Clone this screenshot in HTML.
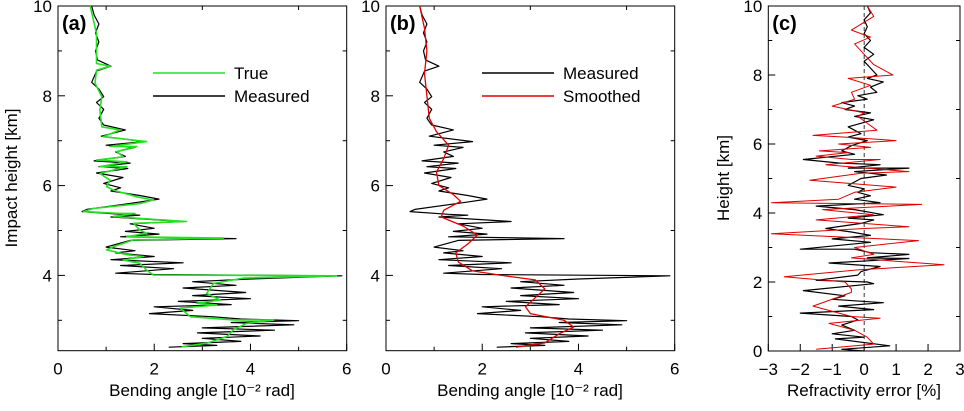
<!DOCTYPE html>
<html><head><meta charset="utf-8"><style>
body{margin:0;background:#fff}
svg text{font-family:"Liberation Sans",Arial,sans-serif;fill:#000}
</style></head><body>
<svg id="fig" width="964" height="406" viewBox="0 0 964 406" xmlns="http://www.w3.org/2000/svg"></svg>
<script>
// Panel (a)/(b) data: [value, height]
const trueProfile=[[0.67,10],[0.8,9.39],[0.8,8.72],[1.08,8.66],[0.8,8.57],[0.77,8.28],[0.91,7.98],[0.87,7.68],[0.91,7.31],[1.29,7.24],[0.94,7.09],[1.84,6.98],[1.08,6.87],[1.64,6.87],[1.22,6.76],[1.36,6.64],[0.8,6.57],[1.43,6.53],[0.87,6.42],[1.43,6.42],[0.87,6.27],[1.08,6.12],[1.01,5.98],[1.15,5.9],[1.64,5.75],[1.98,5.68],[1.7,5.6],[0.73,5.49],[0.53,5.42],[1.29,5.38],[1.6,5.38],[1.15,5.31],[2.67,5.2],[1.57,5.16],[1.7,5.01],[1.84,4.94],[1.43,4.86],[3.44,4.83],[1.57,4.79],[1.15,4.64],[1.01,4.57],[1.43,4.46],[1.77,4.42],[1.36,4.34],[1.7,4.27],[1.84,4.12],[1.98,4.01],[5.79,3.99],[3.85,3.94],[3.23,3.82],[3.09,3.6],[3.37,3.45],[2.88,3.38],[3.3,3.34],[2.54,3.27],[2.75,3.08],[3.65,3.01],[4.48,3.01],[3.92,2.93],[3.65,2.79],[3.51,2.64],[3.09,2.49],[2.57,2.41]];
const measuredProfile=[[0.7,10],[0.75,9.8],[0.85,9.6],[0.78,9.4],[0.85,9.2],[0.78,9.0],[0.82,8.8],[1.1,8.66],[0.8,8.55],[0.7,8.3],[0.85,8.15],[0.95,7.98],[0.8,7.85],[0.95,7.7],[0.85,7.5],[0.95,7.35],[1.4,7.24],[0.9,7.1],[1.8,6.98],[1.0,6.9],[1.6,6.85],[1.2,6.75],[1.4,6.65],[0.75,6.55],[1.5,6.5],[0.85,6.42],[1.45,6.38],[0.8,6.28],[1.35,6.18],[0.95,6.05],[1.3,5.95],[1.1,5.88],[1.7,5.78],[2.1,5.7],[1.6,5.62],[0.6,5.47],[0.5,5.42],[1.3,5.36],[1.7,5.34],[1.1,5.3],[2.6,5.2],[1.5,5.15],[2.0,5.05],[1.4,4.98],[2.1,4.92],[1.3,4.86],[3.7,4.82],[1.5,4.78],[1.0,4.63],[1.6,4.55],[1.2,4.5],[2.0,4.42],[1.1,4.35],[2.6,4.28],[1.3,4.22],[2.4,4.15],[1.2,4.05],[2.0,4.02],[5.9,3.99],[4.0,3.92],[2.8,3.86],[3.7,3.78],[2.6,3.72],[3.9,3.62],[2.8,3.55],[4.0,3.48],[2.5,3.42],[3.6,3.35],[2.0,3.3],[2.8,3.22],[1.9,3.15],[3.2,3.08],[3.8,3.03],[5.0,2.99],[3.6,2.95],[4.9,2.9],[3.0,2.83],[4.5,2.78],[2.9,2.72],[4.2,2.65],[3.0,2.6],[3.8,2.53],[2.6,2.48],[3.3,2.44],[2.3,2.4]];
const smoothedProfile=[[0.7,10],[0.8,9.5],[0.85,9],[0.8,8.5],[0.85,8],[0.9,7.5],[1.05,7.2],[1.3,6.9],[1.2,6.6],[1.05,6.3],[1.1,6.0],[1.4,5.8],[1.55,5.65],[1.2,5.45],[1.15,5.3],[1.6,5.1],[1.9,4.9],[1.7,4.7],[1.45,4.5],[1.5,4.3],[1.8,4.1],[2.4,4.0],[3.1,3.9],[3.3,3.7],[3.1,3.5],[2.9,3.3],[3.0,3.15],[3.7,3.0],[3.9,2.85],[3.6,2.7],[3.3,2.5],[2.7,2.4]];
// Panel (c): [percent, height]
const errMeasured=[[0.1,10],[0.2,9.8],[0,9.6],[0.1,9.4],[0,9.2],[0.2,9.0],[0,8.8],[0.3,8.6],[0,8.4],[0.2,8.2],[0.4,8.0],[0.1,7.9],[0.6,7.8],[0.2,7.65],[0.4,7.5],[-0.2,7.4],[0.1,7.3],[-0.7,7.2],[-0.3,7.1],[-0.6,7.0],[0.2,6.9],[-0.3,6.8],[0.3,6.7],[-0.5,6.5],[-0.1,6.3],[-0.5,6.2],[0.1,6.1],[-0.4,5.95],[-0.7,5.8],[-0.3,5.7],[-1.9,5.55],[-0.8,5.45],[0.5,5.4],[-0.5,5.3],[1.4,5.3],[-0.3,5.2],[0.7,5.1],[-0.1,5.0],[-0.5,4.8],[0,4.7],[-0.2,4.6],[0.2,4.5],[-0.3,4.4],[0.5,4.3],[-1.5,4.2],[-0.3,4.1],[0.6,3.95],[-0.5,3.85],[0.3,3.8],[-0.1,3.7],[-1.2,3.55],[-0.4,3.45],[0.2,3.35],[-1.0,3.25],[0.2,3.15],[-2.0,2.95],[-0.3,2.95],[0.2,2.85],[1.4,2.8],[0.1,2.7],[1.4,2.68],[-1.1,2.55],[0.5,2.45],[-0.1,2.3],[-0.2,2.2],[-1.5,2.05],[0.1,2.0],[0.3,1.95],[-1.9,1.75],[-0.6,1.6],[-1.0,1.5],[0.6,1.4],[-0.8,1.3],[0.3,1.2],[-2.0,1.1],[-0.4,1.0],[-0.2,0.9],[-0.7,0.75],[-0.3,0.6],[-1.0,0.5],[0.0,0.4],[-0.9,0.35],[0.8,0.15],[-0.7,0.05],[0,0]];
const errSmoothed=[[0.1,10],[0.3,9.7],[-0.4,9.3],[0.2,9.1],[-0.3,8.9],[0,8.6],[0.3,8.3],[0.9,8.0],[-0.5,7.9],[0.2,7.7],[-0.4,7.5],[-0.3,7.3],[-1.0,7.1],[0,6.9],[-0.2,6.8],[0.4,6.4],[-1.6,6.25],[-0.6,6.2],[1.0,6.1],[-0.8,6.0],[0.2,5.9],[-1.4,5.8],[-0.5,5.75],[-1.5,5.65],[-0.4,5.55],[0.5,5.55],[-1.2,5.4],[1.4,5.2],[-0.1,5.15],[-1.7,4.95],[1.0,4.75],[-0.3,4.6],[-0.8,4.4],[-2.9,4.3],[1.8,4.25],[-1.3,4.1],[0.3,3.95],[-1.5,3.8],[1.4,3.6],[0,3.55],[-2.9,3.4],[1.7,3.2],[-0.3,3.0],[0.3,2.8],[-0.4,2.7],[2.5,2.5],[-0.2,2.35],[-2.5,2.15],[-0.6,2.0],[-0.4,1.8],[-0.4,1.7],[-1.6,1.3],[-0.4,1.0],[0.5,0.95],[-1.1,0.8],[-0.3,0.6],[0.1,0.4],[0.3,0.2],[-1.5,0.05]];
const abXTicks=[0,2,4,6], abYTicks=[4,6,8,10], cXTicks=[-3,-2,-1,0,1,2,3], cYTicks=[0,2,4,6,8,10];

const NS="http://www.w3.org/2000/svg", svg=document.getElementById('fig');
function mk(tag,attrs,parent){const e=document.createElementNS(NS,tag);for(const k in attrs)e.setAttribute(k,attrs[k]);(parent||svg).appendChild(e);return e;}
function panel(id,x0,x1,y0,y1,xmin,xmax,ymin,ymax,xt,yt,xminor,yminor){
  const g=mk('g',{});
  
  
  const sx=v=>x0+(v-xmin)/(xmax-xmin)*(x1-x0), sy=v=>y1-(v-ymin)/(ymax-ymin)*(y1-y0);
  const fr=mk('rect',{x:x0,y:y0,width:x1-x0,height:y1-y0,fill:'none',stroke:'#000','stroke-width':1},g);
  
  
  xminor.forEach(v=>{mk('line',{x1:sx(v),x2:sx(v),y1:y1,y2:y1-4,stroke:'#000'},g);mk('line',{x1:sx(v),x2:sx(v),y1:y0,y2:y0+4,stroke:'#000'},g);});
  yminor.forEach(v=>{mk('line',{x1:x0,x2:x0+4,y1:sy(v),y2:sy(v),stroke:'#000'},g);mk('line',{x1:x1,x2:x1-4,y1:sy(v),y2:sy(v),stroke:'#000'},g);});
  xt.forEach(v=>{mk('line',{x1:sx(v),x2:sx(v),y1:y1,y2:y1-7,stroke:'#000'},g);const t=mk('text',{x:sx(v),y:y1+24,'text-anchor':'middle','font-size':17},g);t.textContent=(v<0?'\u2212'+(-v):v);
    
    });
  yt.forEach(v=>{mk('line',{x1:x0,x2:x0+7,y1:sy(v),y2:sy(v),stroke:'#000'},g);const t=mk('text',{x:x0-6,y:sy(v)+6,'text-anchor':'end','font-size':17},g);t.textContent=v;
    
    });
  const lab=mk('text',{x:x0+4,y:y0+24,'font-size':20,'font-weight':'bold'},g);lab.textContent='('+id+')';
  
  
  return {g,sx,sy};
}
function series(p,data,color,name,w){
  const e=mk('polyline',{points:data.map(d=>p.sx(d[0]).toFixed(1)+','+p.sy(d[1]).toFixed(1)).join(' '),fill:'none',stroke:color,'stroke-width':w,'stroke-linejoin':'round'},p.g);
  
  
}
function legend(p,x,y,color,label,name){
  const l=mk('line',{x1:x,x2:x+72,y1:y,y2:y,stroke:color,'stroke-width':1.5},p.g);
  
  
  const t=mk('text',{x:x+81,y:y+6,'font-size':17},p.g);t.textContent=label;
  
  
}
function text(x,y,s,name,rot){const t=mk('text',{x:x,y:y,'font-size':17,'text-anchor':'middle'});if(rot)t.setAttribute('transform','rotate(-90 '+x+' '+y+')');t.textContent=s;
  
  return t;}

// (a)
const A=panel('a',58,346.7,6,350.7,0,6,10-344.7/44.9,10,abXTicks,abYTicks,[1,3,5],[3,5,7,9]);
series(A,measuredProfile,'#000','measured-line-a',1.2);
series(A,trueProfile,'#22e022','true-line',1.6);
legend(A,153,73,'#22e022','True','legend-true');
legend(A,153,96,'#000','Measured','legend-measured-a');
// (b)
const B=panel('b',386,674.7,6,350.7,0,6,10-344.7/44.9,10,abXTicks,abYTicks,[1,3,5],[3,5,7,9]);
series(B,measuredProfile,'#000','measured-line-b',1.2);
series(B,smoothedProfile,'#e00000','smoothed-line',1.3);
legend(B,482,73,'#000','Measured','legend-measured-b');
legend(B,482,96,'#e00000','Smoothed','legend-smoothed');
// (c)
const C=panel('c',768.3,960,6,351,-3,3,0,10,cXTicks,cYTicks,[],[1,3,5,7,9]);
const z=mk('line',{x1:C.sx(0),x2:C.sx(0),y1:6,y2:351,stroke:'#000','stroke-dasharray':'4,3','stroke-width':0.8},C.g);


series(C,errMeasured,'#000','error-measured-line',1.2);
series(C,errSmoothed,'#e00000','error-smoothed-line',1);

text(202,396,'Bending angle [10\u207B\u00B2 rad]','x-axis-title-a');
text(530,396,'Bending angle [10\u207B\u00B2 rad]','x-axis-title-b');
text(864,396,'Refractivity error [%]','x-axis-title-c');
text(17,178,'Impact height [km]','y-axis-title-a',true);
text(729,178,'Height [km]','y-axis-title-c',true);
</script>
</body></html>
